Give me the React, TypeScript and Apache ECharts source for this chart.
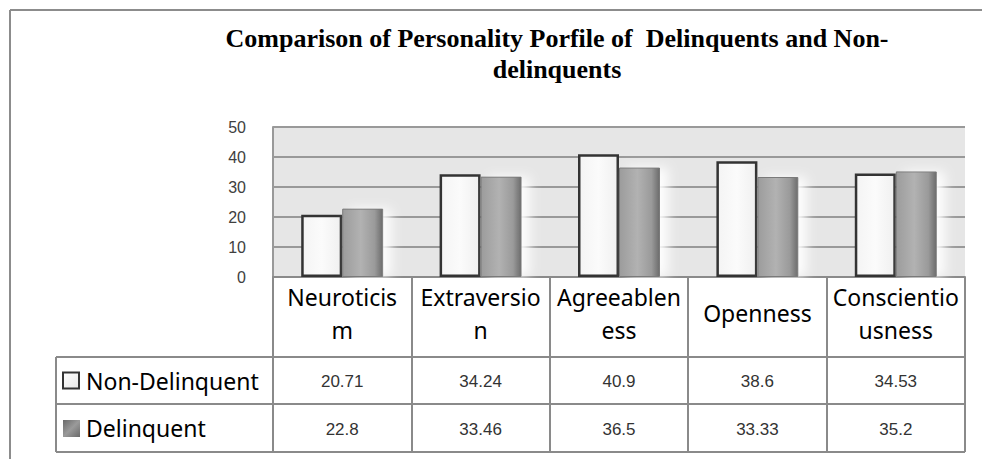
import React, { useEffect, useRef } from "react";
import * as echarts from "echarts";

const categories = ["Neuroticism", "Extraversion", "Agreeableness", "Openness", "Conscientiousness"];
const headerLabels = ["Neuroticis\nm", "Extraversio\nn", "Agreeablen\ness", "Openness", "Conscientio\nusness"];
const seriesNames = ["Non-Delinquent", "Delinquent"];
const nonDelinquent = [20.71, 34.24, 40.9, 38.6, 34.53];
const delinquent = [22.8, 33.46, 36.5, 33.33, 35.2];
const yTicks = [0, 10, 20, 30, 40, 50];
const titleLines = ["Comparison of Personality Porfile of  Delinquents and Non-", "delinquents"];

const W = 982;
const H = 459;
const GL = 273;
const GR = 965;
const GT = 127;
const GB = 277;
const ROW1 = 357;
const ROW2 = 404;
const ROW3 = 452;
const LEG_L = 56;

export default function App() {
  const ref = useRef<HTMLDivElement>(null);
  useEffect(() => {
    if (!ref.current) return;
    const chart = echarts.init(ref.current, undefined, { renderer: "svg" });
    const colW = (GR - GL) / categories.length;
    const lineColor = "#8a8a8a";
    const graphics: any[] = [];
    // frame
    graphics.push({ type: "line", shape: { x1: 10, y1: 10, x2: W, y2: 10 }, style: { stroke: "#8c8c8c", lineWidth: 2 } });
    graphics.push({ type: "line", shape: { x1: 10, y1: 10, x2: 10, y2: H }, style: { stroke: "#8c8c8c", lineWidth: 2 } });
    // title
    graphics.push({
      type: "text",
      x: 557,
      y: 23,
      style: {
        text: titleLines.join("\n"),
        font: "bold 26px 'Liberation Serif', 'Times New Roman', serif",
        fill: "#000",
        textAlign: "center",
        textVerticalAlign: "top",
        lineHeight: 31,
      },
    });
    // table horizontal lines
    [ROW1, ROW2, ROW3].forEach((y) => {
      graphics.push({ type: "line", shape: { x1: LEG_L, y1: y, x2: GR, y2: y }, style: { stroke: lineColor, lineWidth: 2 } });
    });
    graphics.push({ type: "line", shape: { x1: LEG_L, y1: ROW1, x2: LEG_L, y2: ROW3 }, style: { stroke: lineColor, lineWidth: 2 } });
    // legend cells
    const rowsY = [(ROW1 + ROW2) / 2, (ROW2 + ROW3) / 2];
    graphics.push({
      type: "rect",
      shape: { x: 63, y: rowsY[0] - 8, width: 16, height: 16 },
      style: {
        fill: new echarts.graphic.LinearGradient(0, 0, 1, 1, [
          { offset: 0, color: "#ffffff" },
          { offset: 1, color: "#e6e6e6" },
        ]),
        stroke: "#333",
        lineWidth: 2,
      },
    });
    graphics.push({
      type: "rect",
      shape: { x: 63, y: rowsY[1] - 8, width: 17, height: 17 },
      style: {
        fill: new echarts.graphic.LinearGradient(0, 0, 1, 1, [
          { offset: 0, color: "#6a6a6a" },
          { offset: 0.5, color: "#9a9a9a" },
          { offset: 1, color: "#6a6a6a" },
        ]),
      },
    });
    seriesNames.forEach((n, r) => {
      graphics.push({
        type: "text",
        x: 86,
        y: rowsY[r],
        style: { text: n, font: "23px 'Noto Sans', sans-serif", fill: "#000", textVerticalAlign: "middle" },
      });
    });
    [nonDelinquent, delinquent].forEach((arr, r) => {
      arr.forEach((v, i) => {
        graphics.push({
          type: "text",
          x: GL + colW * (i + 0.5),
          y: rowsY[r] + 1,
          style: {
            text: String(v),
            font: "17px 'Liberation Sans', Arial, sans-serif",
            fill: "#333",
            textAlign: "center",
            textVerticalAlign: "middle",
          },
        });
      });
    });

    chart.setOption({
      animation: false,
      backgroundColor: "#fff",
      grid: {
        left: GL,
        top: GT,
        width: GR - GL,
        height: GB - GT,
        show: true,
        backgroundColor: "#e6e6e6",
        borderWidth: 0,
        containLabel: false,
      },
      xAxis: {
        type: "category",
        data: categories,
        axisLine: { show: true, lineStyle: { color: lineColor, width: 2 } },
        axisTick: { show: true, interval: 0, length: ROW3 - GB, lineStyle: { color: lineColor, width: 2 } },
        axisLabel: {
          interval: 0,
          margin: 36,
          verticalAlign: "middle",
          lineHeight: 33,
          fontSize: 23,
          fontFamily: "'Noto Sans', sans-serif",
          color: "#000",
          formatter: (_v: string, i: number) => headerLabels[i],
        },
      },
      yAxis: {
        type: "value",
        min: yTicks[0],
        max: yTicks[yTicks.length - 1],
        interval: 10,
        axisLine: { show: true, lineStyle: { color: "#999", width: 2 } },
        axisTick: { show: false },
        axisLabel: {
          margin: 27,
          fontSize: 16,
          fontFamily: "'Liberation Sans', Arial, sans-serif",
          color: "#404040",
        },
        splitLine: { show: true, lineStyle: { color: "#999", width: 2 } },
      },
      series: [
        {
          name: seriesNames[0],
          type: "bar",
          data: nonDelinquent,
          barWidth: 41,
          barGap: "0%",
          itemStyle: {
            color: new echarts.graphic.LinearGradient(0, 0, 1, 0, [
              { offset: 0, color: "#f4f4f4" },
              { offset: 0.5, color: "#fbfbfb" },
              { offset: 1, color: "#f0f0f0" },
            ]),
            borderColor: "#333",
            borderWidth: 2.5,
          },
        },
        {
          name: seriesNames[1],
          type: "bar",
          data: delinquent,
          barWidth: 41,
          barGap: "0%",
          itemStyle: {
            color: new echarts.graphic.LinearGradient(0, 0, 1, 0, [
              { offset: 0, color: "#9c9c9c" },
              { offset: 0.45, color: "#b2b2b2" },
              { offset: 0.8, color: "#9a9a9a" },
              { offset: 1, color: "#6c6c6c" },
            ]),
            borderColor: "#7a7a7a",
            borderWidth: 1,
            shadowColor: "rgba(255,255,255,0.95)",
            shadowBlur: 12,
            shadowOffsetX: 8,
          },
        },
      ],
      graphic: graphics,
    });
    return () => chart.dispose();
  }, []);
  return <div ref={ref} style={{ position: "fixed", left: 0, top: 0, width: W, height: H }} />;
}
